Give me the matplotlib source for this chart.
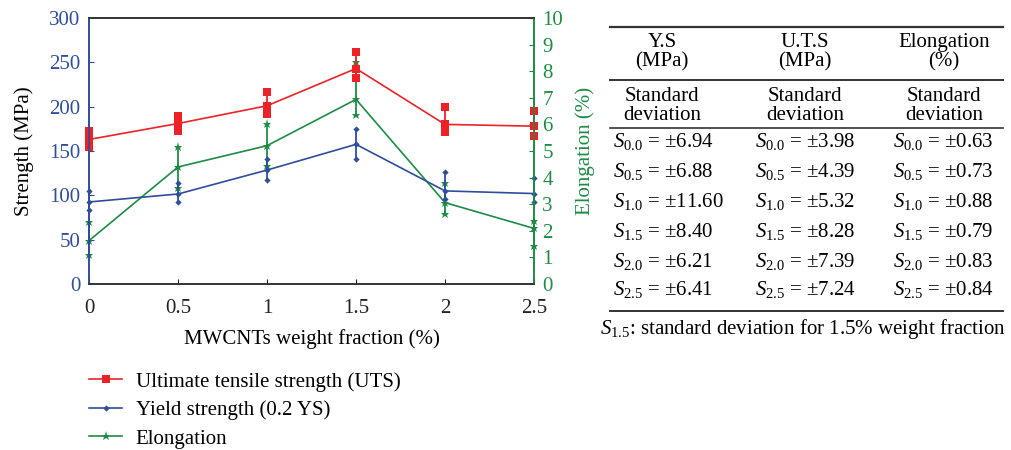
import matplotlib
matplotlib.use("Agg")
import matplotlib.pyplot as plt
import numpy as np

plt.rcParams['font.family'] = ['Liberation Serif', 'DejaVu Serif']
plt.rcParams['mathtext.fontset'] = 'custom'
plt.rcParams['mathtext.rm'] = 'Liberation Serif'
plt.rcParams['mathtext.it'] = 'Liberation Serif:italic'

# --- dane ---
fraction = [0, 0.5, 1, 1.5, 2, 2.5]

uts_mean = [163, 181, 201, 243, 180, 178]
uts_hi = [172, 190, 216, 262, 200, 195]
uts_lo = [154, 172, 192, 232, 171, 167]

ys_mean = [92.5, 101.5, 128.5, 157.5, 105, 102]
ys_hi = [105, 114, 141, 175, 126, 119]
ys_lo = [83.5, 92.5, 117, 141, 95.5, 93]

el_mean = [1.63, 4.4, 5.2, 6.94, 3.06, 2.09]
el_hi = [2.33, 5.15, 6.0, 8.33, 3.8, 2.38]
el_lo = [1.08, 3.6, 4.45, 6.36, 2.62, 1.44]

col_headers = ["Y.S\n(MPa)", "U.T.S\n(MPa)", "Elongation\n(%)"]
row_keys = ["0.0", "0.5", "1.0", "1.5", "2.0", "2.5"]
sd_ys = ["6.94", "6.88", "11.60", "8.40", "6.21", "6.41"]
sd_uts = ["3.98", "4.39", "5.32", "8.28", "7.39", "7.24"]
sd_el = ["0.63", "0.73", "0.88", "0.79", "0.83", "0.84"]

RED = '#ec2227'
BLUE = '#2e4d9b'
GREEN = '#1e8c45'
FS = 15

fig = plt.figure(figsize=(10.12, 4.5), dpi=100)
ax = fig.add_axes([89 / 1012, 1 - 284 / 450, (534 - 89) / 1012, (284 - 18) / 450])
ax2 = ax.twinx()


def draw(axis, x, mean, hi, lo, color, marker, ms, label):
    mean = np.array(mean)
    axis.errorbar(x, mean, yerr=[mean - np.array(lo), np.array(hi) - mean],
                  fmt='none', ecolor=color, elinewidth=1.3, capsize=0, clip_on=False)
    line, = axis.plot(x, mean, color=color, lw=1.2, marker=marker, ms=ms,
                      markeredgewidth=0, label=label, clip_on=False)
    axis.plot(x, hi, ls='none', marker=marker, ms=ms, color=color, markeredgewidth=0, clip_on=False)
    axis.plot(x, lo, ls='none', marker=marker, ms=ms, color=color, markeredgewidth=0, clip_on=False)
    return line


l3 = draw(ax2, fraction, el_mean, el_hi, el_lo, GREEN, '*', 6.5, "Elongation")
l1 = draw(ax, fraction, uts_mean, uts_hi, uts_lo, RED, 's', 5.5, "Ultimate tensile strength (UTS)")
l2 = draw(ax, fraction, ys_mean, ys_hi, ys_lo, BLUE, 'D', 3.2, "Yield strength (0.2 YS)")
ax.set_zorder(ax2.get_zorder() + 1)
ax.patch.set_visible(False)

ax.set_xlim(0, 2.5)
ax.set_ylim(0, 300)
ax2.set_ylim(0, 10)
ax.set_xticks(fraction)
ax.set_xticklabels(["0", "0.5", "1", "1.5", "2", "2.5"])
ax.set_yticks(np.arange(0, 301, 50))
ax2.set_yticks(np.arange(0, 11, 1))

ax.tick_params(axis='x', direction='in', labelsize=FS, pad=11, colors='#222222')
ax.tick_params(axis='y', direction='in', labelsize=FS, colors=BLUE, labelcolor=BLUE, pad=6)
ax2.tick_params(axis='y', direction='in', labelsize=FS, colors=GREEN, labelcolor=GREEN, pad=6)

for a in (ax, ax2):
    a.spines['top'].set_color('#333333')
    a.spines['bottom'].set_color('#333333')
    a.spines['left'].set_color(BLUE)
    a.spines['right'].set_color(GREEN)
    for s in a.spines.values():
        s.set_linewidth(1.2)

ax.set_xlabel("MWCNTs weight fraction (%)", fontsize=FS, labelpad=8)
ax.set_ylabel("Strength (MPa)", fontsize=FS, labelpad=11)
ax2.set_ylabel("Elongation (%)", fontsize=FS, color=GREEN, labelpad=9)

fig.legend(handles=[l1, l2, l3], loc='upper left', bbox_to_anchor=(89 / 1012, 1 - 372 / 450),
           frameon=False, fontsize=FS, handlelength=1.6, handletextpad=0.65,
           labelspacing=0.42, borderpad=0, borderaxespad=0)

# --- tabela odchyleń standardowych ---
xl, xr = 610 / 1012, 1003 / 1012
col_x = [662 / 1012, 805 / 1012, 944 / 1012]
col_left = [613 / 1012, 755 / 1012, 893 / 1012]


def fy(py):
    return 1 - py / 450


fig.add_artist(plt.Line2D([xl, xr], [fy(27), fy(27)], color='#333333', lw=1.6))
fig.add_artist(plt.Line2D([xl, xr], [fy(80), fy(80)], color='#333333', lw=1.4))
fig.add_artist(plt.Line2D([xl, xr], [fy(128), fy(128)], color='#333333', lw=1.2))
fig.add_artist(plt.Line2D([xl, xr], [fy(311), fy(311)], color='#333333', lw=1.4))

for cx, h in zip(col_x, col_headers):
    fig.text(cx, fy(52), h, ha='center', va='center', fontsize=FS, linespacing=1.05)
    fig.text(cx, fy(106), "Standard\ndeviation", ha='center', va='center', fontsize=FS,
             linespacing=1.05)

row_y = [142, 171, 201, 231, 261, 290]
for lx, vals in zip(col_left, [sd_ys, sd_uts, sd_el]):
    for ry, k, v in zip(row_y, row_keys, vals):
        fig.text(lx, fy(ry), r"$S_{%s}$ = $\pm$%s" % (k, v), ha='left', va='center',
                 fontsize=FS)

fig.text(600 / 1012, fy(329), r"$S_{1.5}$: standard deviation for 1.5% weight fraction",
         ha='left', va='center', fontsize=FS)

fig.savefig("out.png", dpi=100)
